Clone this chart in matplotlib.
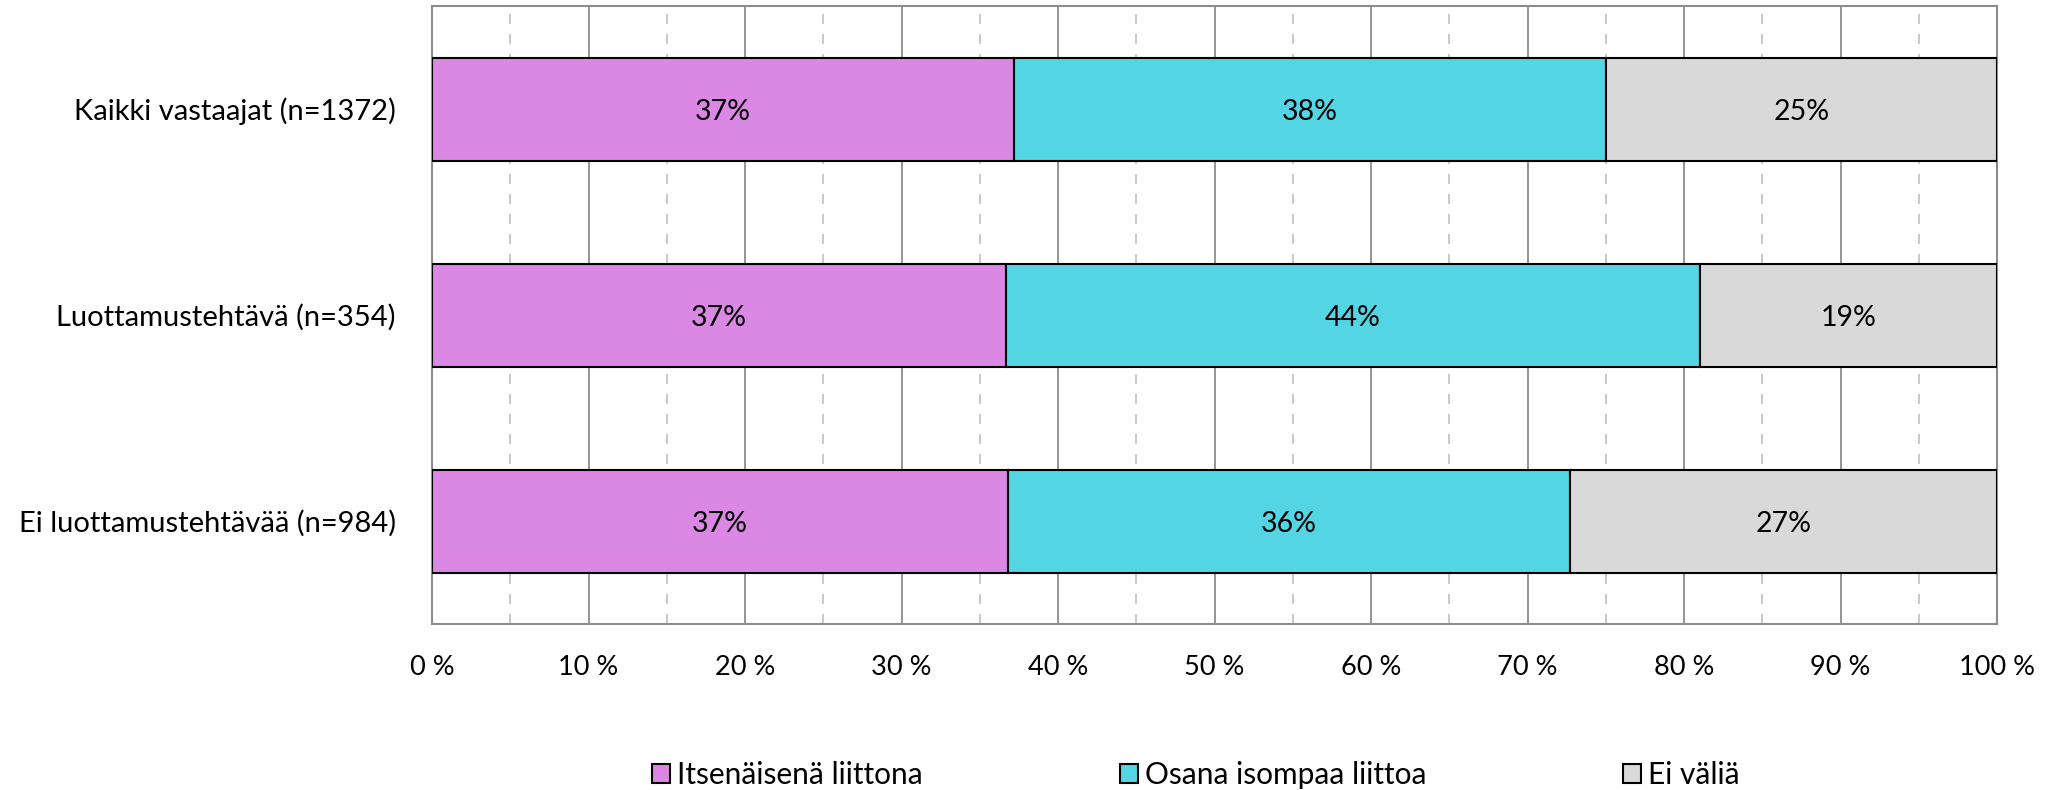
import matplotlib.pyplot as plt
import numpy as np
from matplotlib.ticker import MultipleLocator, FuncFormatter

plt.rcParams['font.family'] = ['Lato', 'DejaVu Sans']

# Data
categories = ['Kaikki vastaajat (n=1372)', 'Luottamustehtävä (n=354)', 'Ei luottamustehtävää (n=984)']
series_names = ['Itsenäisenä liittona', 'Osana isompaa liittoa', 'Ei väliä']
itsenainen = [37.2, 36.7, 36.8]
osana = [37.8, 44.3, 35.9]
ei_valia = [25.0, 19.0, 27.3]
colors = ['#DA88E3', '#54D5E3', '#D9D9D9']

fig = plt.figure(figsize=(20.64, 7.9), dpi=100)
ax = fig.add_axes([432 / 2064, 1 - 624 / 790, (1997 - 432) / 2064, (624 - 6) / 790])

y = np.arange(len(categories))
left = np.zeros(len(categories))
handles = []
for vals, name, col in zip([itsenainen, osana, ei_valia], series_names, colors):
    vals = np.array(vals)
    bars = ax.barh(y, vals, left=left, height=0.5, color=col, edgecolor='black',
                   linewidth=1.5, label=name, zorder=3)
    handles.append(bars)
    for yi, l, v in zip(y, left, vals):
        ax.text(l + v / 2, yi, f'{round(v):.0f}%', ha='center', va='center_baseline',
                fontsize=20.5, color='black', zorder=4)
    left += vals

ax.set_xlim(0, 100)
ax.set_ylim(2.5, -0.5)
ax.set_yticks(y)
ax.set_yticklabels(categories, fontsize=21)
ax.xaxis.set_major_locator(MultipleLocator(10))
ax.xaxis.set_minor_locator(MultipleLocator(5))
ax.xaxis.set_major_formatter(FuncFormatter(lambda v, p: f'{v:.0f} %'))
ax.tick_params(axis='x', which='both', length=0, labelsize=19.5, pad=22)
ax.tick_params(axis='y', length=0, pad=26)

ax.grid(axis='x', which='major', color='#8C8C8C', linewidth=1.3, zorder=0)
ax.grid(axis='x', which='minor', color='#C0C0C0', linewidth=1.2, linestyle=(0, (6, 6)), zorder=0)
ax.set_axisbelow(True)
for s in ax.spines.values():
    s.set_color('#8C8C8C')
    s.set_linewidth(1.5)

fig.legend(handles=handles, labels=series_names, loc='center', bbox_to_anchor=(1196 / 2064, 1 - 775 / 790),
           ncol=3, frameon=False, fontsize=21.5, handlelength=0.6, handleheight=0.6,
           handletextpad=0.23, columnspacing=6.6, borderaxespad=0)

fig.savefig('out.png', dpi=100)
